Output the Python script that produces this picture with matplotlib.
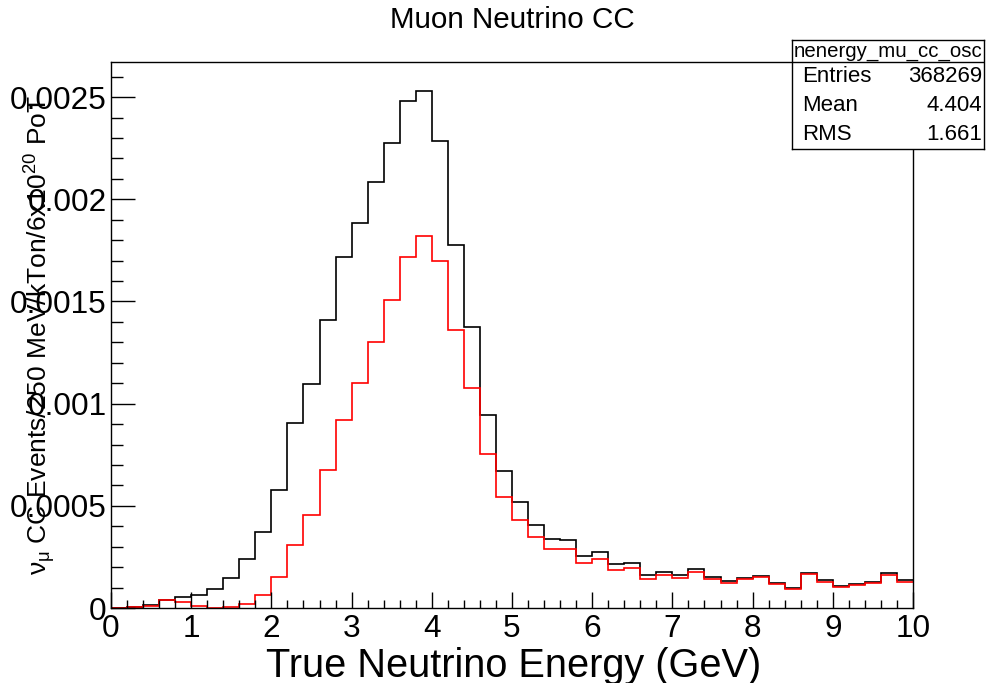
import numpy as np
import matplotlib
matplotlib.use("Agg")
import matplotlib.pyplot as plt
from matplotlib.ticker import MultipleLocator, FixedLocator, FixedFormatter

# ---------------- data ----------------
bin_edges = np.linspace(0.0, 10.0, 51)

unosc_values = [
    0.000002, 0.0000065, 0.000015, 0.000041, 0.000052,
    0.000065, 0.000093, 0.000148, 0.000239, 0.000371,
    0.000576, 0.000904, 0.001096, 0.00141, 0.00172,
    0.001886, 0.002083, 0.002278, 0.002483, 0.00253,
    0.002285, 0.001778, 0.001376, 0.000945, 0.00067,
    0.000518, 0.000408, 0.000337, 0.000332, 0.000253,
    0.000275, 0.000214, 0.000219, 0.000162, 0.000176,
    0.000163, 0.000193, 0.00015, 0.000132, 0.000147,
    0.000158, 0.000124, 0.0001, 0.000173, 0.000136,
    0.000108, 0.000119, 0.000129, 0.000172, 0.000136,
]

osc_values = [
    0.000001, 0.000004, 0.00001, 0.000041, 0.000031,
    0.000011, 0.000002, 0.000003, 0.000021, 0.000065,
    0.000152, 0.00031, 0.000455, 0.000677, 0.000919,
    0.001099, 0.0013, 0.001506, 0.001718, 0.00182,
    0.001697, 0.001359, 0.001078, 0.000756, 0.000544,
    0.00043, 0.000346, 0.000288, 0.000288, 0.000219,
    0.00024, 0.000188, 0.000196, 0.000144, 0.00016,
    0.000145, 0.000176, 0.000142, 0.000124, 0.00014,
    0.00015, 0.000118, 0.000095, 0.000165, 0.000129,
    0.000103, 0.000114, 0.000123, 0.000162, 0.000129,
]

x_ticks = [0, 1, 2, 3, 4, 5, 6, 7, 8, 9, 10]
y_ticks = [0, 0.0005, 0.001, 0.0015, 0.002, 0.0025]
y_tick_labels = ["0", "0.0005", "0.001", "0.0015", "0.002", "0.0025"]

title = "Muon Neutrino CC"
x_title = "True Neutrino Energy (GeV)"
y_title = r"$\nu_{\mu}$ CC Events/250 MeV/kTon/6x10$^{20}$ PoT"

stats_name = "nenergy_mu_cc_osc"
stats_labels = ["Entries", "Mean", "RMS"]
stats_values = ["368269", "4.404", "1.661"]

# ---------------- style ----------------
FONT = "Liberation Sans"
plt.rcParams["font.family"] = [FONT, "DejaVu Sans"]
plt.rcParams["mathtext.fontset"] = "custom"
plt.rcParams["mathtext.rm"] = FONT
plt.rcParams["mathtext.it"] = FONT
plt.rcParams["mathtext.bf"] = FONT

W, H = 993, 683
fig = plt.figure(figsize=(W / 100, H / 100), dpi=100)

ax_l, ax_r, ax_t, ax_b = 111, 913, 62, 608
ax = fig.add_axes([ax_l / W, 1 - ax_b / H, (ax_r - ax_l) / W, (ax_b - ax_t) / H])

ax.stairs(unosc_values, bin_edges, color="black", lw=1.2, baseline=None)
ax.stairs(osc_values, bin_edges, color="#ff0000", lw=1.2, baseline=None)

ax.set_xlim(0, 10)
ax.set_ylim(0, 0.002672)

ax.xaxis.set_major_locator(FixedLocator(x_ticks))
ax.xaxis.set_minor_locator(MultipleLocator(0.2))
ax.yaxis.set_major_locator(FixedLocator(y_ticks))
ax.yaxis.set_major_formatter(FixedFormatter(y_tick_labels))
ax.yaxis.set_minor_locator(MultipleLocator(0.0001))

ax.tick_params(axis="both", which="both", direction="in", top=False, right=False,
               color="black", width=1.0)
ax.tick_params(axis="x", which="major", length=11.5, labelsize=22.7, pad=4)
ax.tick_params(axis="x", which="minor", length=5.8)
ax.tick_params(axis="y", which="major", length=17.3, labelsize=22.7, pad=3)
ax.tick_params(axis="y", which="minor", length=8.6)
for s in ax.spines.values():
    s.set_linewidth(1.0)
    s.set_color("black")

# titles
fig.text(512 / W, 1 - 20 / H, title, ha="center", va="center", fontsize=21.3)
fig.text(514 / W, 1 - 677 / H, x_title, ha="center", va="baseline", fontsize=28.6)
fig.text(40 / W, 1 - 335 / H, y_title, ha="center", va="center", rotation=90,
         fontsize=19)

# stats box
bx_l, bx_r, bx_t, bx_b = 792, 984, 40, 149
sax = fig.add_axes([bx_l / W, 1 - bx_b / H, (bx_r - bx_l) / W, (bx_b - bx_t) / H])
sax.set_xlim(0, bx_r - bx_l)
sax.set_ylim(bx_b - bx_t, 0)
sax.set_xticks([])
sax.set_yticks([])
sax.set_facecolor("white")
for s in sax.spines.values():
    s.set_linewidth(1.0)
    s.set_color("black")
sep = 62 - bx_t
sax.axhline(sep, color="black", lw=1.0)
sax.text((bx_r - bx_l) / 2, sep / 2 + 0.5, stats_name, ha="center", va="center", fontsize=14.7)
row_h = (bx_b - bx_t - sep) / 3
for i, (lab, val) in enumerate(zip(stats_labels, stats_values)):
    yc = sep + row_h * (i + 0.5)
    sax.text(10, yc, lab, ha="left", va="center", fontsize=16)
    sax.text(bx_r - bx_l - 2, yc, val, ha="right", va="center", fontsize=16)

fig.savefig("out.png", dpi=100)
